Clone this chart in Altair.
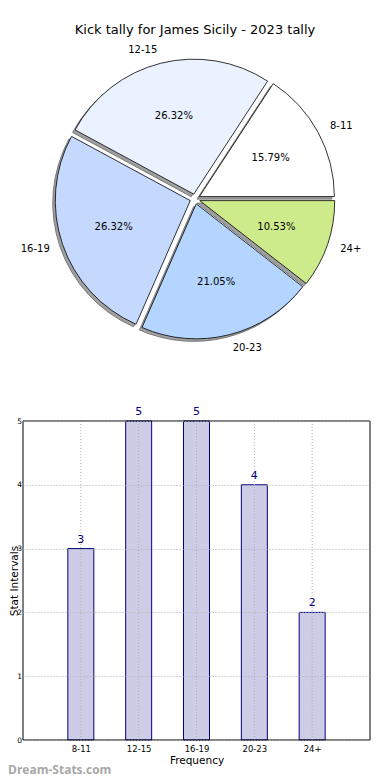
import json
import altair as alt
import pandas as pd

# ---- data ----
categories = ["8-11", "12-15", "16-19", "20-23", "24+"]
counts = [3, 5, 5, 4, 2]
pie_colors = ["#ffffff", "#eaf1ff", "#c5d9ff", "#b3d5ff", "#ceeb8b"]
title_text = "Kick tally for James Sicily - 2023 tally"
x_title = "Frequency"
y_title = "Stat Intervals"
watermark = "Dream-Stats.com"
y_ticks = [0, 1, 2, 3, 4, 5]

df = pd.DataFrame({
    "idx": list(range(len(categories))),
    "category": categories,
    "count": counts,
    "color": pie_colors,
})

# ---- layout (pixels, relative to plot origin) ----
W, H = 347, 732
CX, CY, R, D = 172, 191, 135, 5
FONT = "DejaVu Sans"

pie = (
    alt.Chart(df)
    .transform_window(cum="sum(count)", sort=[alt.SortField("idx")], frame=[None, 0])
    .transform_joinaggregate(total="sum(count)")
    .transform_calculate(
        a0="2.5*PI - 2*PI*(datum.cum - datum.count)/datum.total",
        a1="2.5*PI - 2*PI*datum.cum/datum.total",
        m="2*PI*(datum.cum - datum.count/2)/datum.total",
    )
    .transform_calculate(
        cx=f"{CX} + {D}*cos(datum.m)",
        cy=f"{CY} - {D}*sin(datum.m)",
    )
    .transform_calculate(
        sx="datum.cx - 2.5",
        sy="datum.cy + 2.5",
        lx=f"datum.cx + {1.1 * R}*cos(datum.m)",
        ly=f"datum.cy - {1.1 * R}*sin(datum.m)",
        px=f"datum.cx + {0.6 * R}*cos(datum.m)",
        py=f"datum.cy - {0.6 * R}*sin(datum.m)",
        pct="format(100*datum.count/datum.total, '.2f') + '%'",
        right="cos(datum.m) >= 0 ? 1 : 0",
    )
)

shadow = pie.mark_arc(outerRadius=R, fill="#a0a0a0", stroke="#7a7a7a", strokeWidth=1).encode(
    x=alt.X("sx:Q", scale=None),
    y=alt.Y("sy:Q", scale=None),
    theta=alt.Theta("a0:Q", scale=None),
    theta2="a1:Q",
)

wedges = pie.mark_arc(outerRadius=R, stroke="black", strokeWidth=0.8).encode(
    x=alt.X("cx:Q", scale=None),
    y=alt.Y("cy:Q", scale=None),
    theta=alt.Theta("a0:Q", scale=None),
    theta2="a1:Q",
    fill=alt.Fill("color:N", scale=None, legend=None),
)

lab_r = pie.transform_filter("datum.right == 1").mark_text(
    font=FONT, fontSize=10, align="left", baseline="middle", color="black"
).encode(x=alt.X("lx:Q", scale=None), y=alt.Y("ly:Q", scale=None), text="category:N")

lab_l = pie.transform_filter("datum.right == 0").mark_text(
    font=FONT, fontSize=10, align="right", baseline="middle", color="black"
).encode(x=alt.X("lx:Q", scale=None), y=alt.Y("ly:Q", scale=None), text="category:N")

pct = pie.mark_text(
    font=FONT, fontSize=10, align="center", baseline="middle", color="black"
).encode(x=alt.X("px:Q", scale=None), y=alt.Y("py:Q", scale=None), text="pct:N")

title = alt.Chart(pd.DataFrame({"t": [title_text]})).mark_text(
    font=FONT, fontSize=13, align="center", baseline="middle", color="black"
).encode(x=alt.value(172), y=alt.value(22), text="t:N")

wm = alt.Chart(pd.DataFrame({"t": [watermark]})).mark_text(
    font="Open Sans", fontSize=12, fontWeight="bold", align="left", baseline="middle", color="#a8a8a8"
).encode(x=alt.value(-15), y=alt.value(762), text="t:N")

# ---- bar chart ----
label_expr = "{}[datum.value - 1]".format(json.dumps(categories))
xscale = alt.Scale(domain=[0, len(categories) + 1], nice=False, zero=False, padding=0)
yscale = alt.Scale(domain=[0, 5], range=[H, 413], nice=False, padding=0)

xaxis = alt.Axis(
    values=[i + 1 for i in range(len(categories))], labelExpr=label_expr, title=x_title,
    grid=False, ticks=False, domain=False,
    labelFont=FONT, labelFontSize=8.5, labelPadding=4, labelColor="black",
    titleFont=FONT, titleFontSize=10.5, titleFontWeight="normal", titlePadding=3, titleColor="black",
)
yaxis = alt.Axis(
    values=y_ticks, title=y_title, format="d",
    grid=True, gridDash=[1, 2], gridColor="#b0b0b0", ticks=False, domain=False,
    labelFont=FONT, labelFontSize=7.5, labelPadding=1.5, labelColor="black",
    titleFont=FONT, titleFontSize=10.5, titleFontWeight="normal", titleColor="black",
    titleX=-6, titleBaseline="alphabetic",
    zindex=1,
)

barbase = alt.Chart(df).transform_calculate(pos="datum.idx + 1")

bars = barbase.mark_bar(orient="vertical", size=26, color="#ccccE6", stroke="#000080", strokeWidth=1).encode(
    x=alt.X("pos:Q", scale=xscale, axis=xaxis),
    y=alt.Y("count:Q", scale=yscale, axis=yaxis),
)

vgrid = barbase.mark_rule(color="#b0b0b0", strokeDash=[1, 2], strokeWidth=1).encode(
    x=alt.X("pos:Q", scale=xscale),
    y=alt.datum(0, scale=yscale),
    y2=alt.datum(5),
)

vals = barbase.mark_text(font=FONT, fontSize=11, dy=-4, baseline="bottom", color="#000080").encode(
    x=alt.X("pos:Q", scale=xscale),
    y=alt.Y("count:Q", scale=yscale),
    text="count:Q",
)

frame = alt.Chart(pd.DataFrame({"a": [0]})).mark_rect(fillOpacity=0, stroke="black", strokeWidth=1).encode(
    x=alt.datum(0, scale=xscale), x2=alt.datum(len(categories) + 1),
    y=alt.datum(0, scale=yscale), y2=alt.datum(5),
)

chart = alt.layer(
    bars, vgrid, vals, frame, shadow, wedges, lab_r, lab_l, pct, title, wm
).properties(
    width=W, height=H,
    autosize=alt.AutoSizeParams(type="none"),
    padding={"left": 15, "top": 0, "right": 12, "bottom": 40},
).configure_view(stroke=None)

chart.save("out.html", embed_options={"renderer": "svg", "actions": False})
